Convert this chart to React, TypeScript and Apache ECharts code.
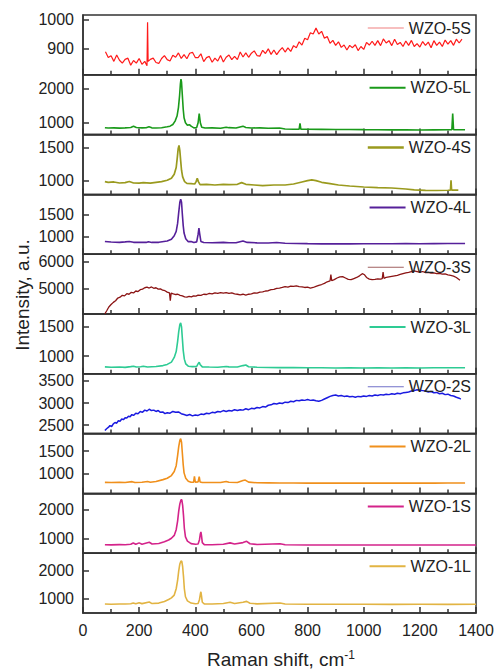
import { useEffect, useRef } from "react";
import * as echarts from "echarts";

// ---------- data ----------
const sampleNames = ["WZO-5S", "WZO-5L", "WZO-4S", "WZO-4L", "WZO-3S", "WZO-3L", "WZO-2S", "WZO-2L", "WZO-1S", "WZO-1L"];

const yRanges: number[][] = [
  [810, 1015], [650, 2420], [800, 1690], [600, 1960], [4070, 6280],
  [700, 1720], [2310, 3660], [565, 1890], [480, 2565], [470, 2640],
];

const yTickValues: number[][] = [
  [900, 1000], [1000, 2000], [1000, 1500], [1000, 1500], [5000, 6000],
  [1000, 1500], [2500, 3000, 3500], [1000, 1500], [1000, 2000], [1000, 2000],
];

const xTickLabels = [0, 200, 400, 600, 800, 1000, 1200, 1400];

const wzo5S = [[80,889],[90,869],[100,875],[110,856],[120,878],[130,860],[140,850],[150,863],[160,867],[170,843],[180,859],[190,850],[200,866],[210,846],[220,856],[228,841],[230,990],[232,856],[240,863],[250,867],[260,852],[270,849],[280,866],[290,876],[300,862],[310,857],[320,877],[330,870],[340,885],[350,866],[360,879],[370,865],[380,884],[390,887],[400,869],[410,869],[420,882],[430,855],[440,869],[450,873],[460,853],[470,867],[480,857],[490,876],[500,854],[510,870],[520,878],[530,862],[540,873],[550,862],[560,888],[570,871],[580,885],[590,870],[600,884],[610,892],[620,876],[630,874],[640,894],[650,883],[660,899],[670,880],[680,895],[690,879],[700,893],[710,903],[720,888],[730,902],[740,890],[750,910],[760,903],[770,923],[780,912],[790,935],[800,930],[810,954],[820,950],[830,970],[840,950],[850,959],[860,935],[870,941],[880,918],[890,928],[900,911],[910,923],[920,904],[930,912],[940,895],[950,911],[960,903],[970,913],[980,893],[990,907],[1000,897],[1010,921],[1020,912],[1030,925],[1040,911],[1050,927],[1060,910],[1070,933],[1080,919],[1090,927],[1100,910],[1110,932],[1120,914],[1130,921],[1140,907],[1150,926],[1160,911],[1170,928],[1180,907],[1190,917],[1200,905],[1210,924],[1220,911],[1230,922],[1240,903],[1250,927],[1260,911],[1270,922],[1280,907],[1290,929],[1300,915],[1310,927],[1320,911],[1330,932],[1340,919],[1350,932]];

const wzo5L = [[78,855],[90,845],[110,850],[130,842],[150,848],[170,860],[180,895],[190,858],[210,848],[225,855],[235,880],[245,850],[260,845],[280,855],[300,880],[310,900],[320,950],[328,1050],[335,1200],[340,1450],[344,1800],[347,2150],[349,2290],[351,2200],[354,1800],[357,1400],[360,1150],[365,1000],[372,930],[380,940],[385,900],[395,850],[405,860],[410,1000],[414,1275],[418,1000],[423,870],[435,845],[460,850],[490,840],[510,870],[520,855],[545,845],[570,900],[580,860],[600,845],[630,850],[660,840],[700,845],[720,815],[750,810],[770,812],[773,980],[776,812],[800,808],[850,805],[900,800],[950,800],[1000,796],[1050,795],[1100,790],[1150,792],[1200,788],[1250,790],[1300,792],[1314,795],[1317,1275],[1320,795],[1340,792],[1361,795]];

const wzo4S = [[78,990],[90,978],[110,985],[130,970],[150,975],[165,992],[180,970],[200,968],[215,975],[240,968],[260,980],[280,990],[300,1010],[315,1040],[325,1100],[332,1200],[336,1350],[339,1480],[342,1530],[345,1450],[348,1300],[351,1160],[355,1060],[362,990],[370,965],[385,960],[398,955],[403,990],[407,1040],[411,990],[417,945],[440,950],[470,940],[500,950],[520,945],[550,950],[565,975],[580,950],[610,940],[640,930],[680,940],[720,940],[750,955],[780,985],[800,1005],[815,1015],[830,1005],[850,980],[880,960],[910,940],[950,925],[1000,910],[1050,900],[1100,895],[1150,880],[1180,868],[1220,860],[1260,858],[1300,862],[1309,865],[1311,1010],[1313,865],[1337,865]];

const wzo4L = [[78,890],[100,878],[130,870],[150,880],[165,890],[180,870],[200,872],[225,868],[233,885],[245,868],[270,870],[300,900],[315,940],[325,1020],[332,1120],[337,1300],[341,1550],[345,1780],[348,1850],[351,1780],[354,1500],[357,1250],[360,1080],[366,950],[375,885],[385,890],[395,868],[405,880],[410,1050],[413,1195],[416,1050],[420,890],[430,865],[460,862],[500,870],[520,860],[545,862],[570,900],[585,868],[620,858],[660,855],[690,865],[720,850],[760,845],[800,840],[850,835],[900,838],[950,835],[1000,838],[1050,836],[1100,838],[1150,840],[1200,838],[1250,840],[1300,842],[1361,842]];

const wzo3S = [[78,4080],[85,4200],[92,4330],[100,4420],[108,4500],[116,4560],[124,4660],[132,4690],[140,4760],[148,4740],[156,4820],[164,4800],[172,4870],[180,4850],[188,4920],[196,4900],[204,4970],[212,4990],[220,5040],[228,5060],[236,5030],[244,5070],[252,5020],[260,5040],[268,4990],[276,5000],[284,4950],[292,4930],[300,4880],[308,4850],[311,4560],[314,4840],[322,4810],[330,4790],[338,4800],[346,4760],[354,4740],[362,4700],[370,4690],[378,4720],[386,4700],[394,4740],[402,4730],[410,4770],[420,4760],[430,4800],[440,4790],[450,4830],[460,4810],[470,4850],[480,4830],[490,4860],[500,4840],[510,4860],[520,4830],[530,4850],[540,4810],[550,4800],[560,4780],[570,4800],[580,4770],[590,4800],[600,4810],[610,4850],[620,4840],[630,4880],[640,4890],[650,4920],[660,4930],[670,4970],[680,4980],[690,5020],[700,5030],[710,5050],[720,5080],[730,5060],[740,5100],[750,5090],[760,5110],[770,5080],[780,5070],[790,5050],[800,5060],[810,5030],[820,5050],[830,5090],[840,5130],[850,5160],[860,5200],[870,5260],[880,5290],[883,5530],[886,5300],[895,5340],[905,5400],[915,5440],[925,5450],[935,5400],[945,5350],[955,5340],[965,5380],[975,5420],[985,5480],[995,5560],[1003,5520],[1010,5420],[1020,5360],[1030,5340],[1040,5350],[1050,5370],[1060,5360],[1066,5380],[1069,5620],[1072,5390],[1080,5420],[1090,5440],[1100,5460],[1110,5480],[1120,5500],[1130,5530],[1140,5560],[1150,5590],[1160,5610],[1170,5640],[1180,5660],[1190,5640],[1200,5620],[1210,5640],[1220,5600],[1230,5610],[1240,5580],[1250,5590],[1260,5560],[1270,5570],[1280,5540],[1290,5550],[1300,5520],[1310,5500],[1320,5470],[1330,5420],[1343,5320]];

const wzo3L = [[78,818],[100,812],[130,815],[150,810],[170,822],[180,830],[190,815],[205,820],[215,830],[230,815],[260,825],[285,840],[300,860],[315,900],[325,980],[332,1080],[337,1250],[341,1420],[345,1540],[348,1570],[351,1500],[354,1300],[357,1100],[361,950],[366,870],[375,830],[390,822],[405,825],[411,880],[414,895],[417,860],[425,818],[450,815],[480,812],[510,825],[520,818],[550,815],[570,840],[580,850],[590,820],[620,812],[660,808],[700,806],[750,805],[800,803],[850,804],[900,800],[950,802],[1000,800],[1050,803],[1100,800],[1150,802],[1200,800],[1250,803],[1300,802],[1361,804]];

const wzo2S = [[78,2380],[84,2420],[90,2450],[96,2490],[102,2470],[108,2530],[114,2560],[120,2545],[126,2600],[132,2590],[138,2640],[144,2625],[150,2670],[156,2660],[162,2700],[168,2690],[174,2740],[180,2720],[188,2770],[196,2760],[204,2810],[212,2790],[220,2840],[228,2820],[236,2860],[244,2830],[252,2840],[260,2810],[268,2830],[276,2790],[284,2800],[292,2760],[300,2780],[310,2770],[320,2810],[330,2790],[340,2800],[350,2760],[360,2740],[370,2720],[380,2740],[390,2710],[400,2730],[410,2720],[420,2750],[430,2740],[440,2770],[450,2760],[460,2790],[470,2780],[480,2810],[490,2800],[500,2830],[510,2810],[520,2830],[530,2820],[540,2850],[550,2830],[560,2850],[570,2840],[580,2870],[590,2850],[600,2880],[610,2870],[620,2900],[630,2890],[640,2920],[650,2910],[660,2950],[670,2960],[680,2990],[690,2980],[700,3000],[710,2990],[720,3020],[730,3010],[740,3040],[750,3030],[760,3060],[770,3050],[780,3070],[790,3060],[800,3080],[810,3060],[820,3070],[830,3050],[840,3040],[850,3060],[860,3090],[870,3120],[880,3150],[890,3170],[900,3180],[910,3160],[920,3170],[930,3150],[940,3160],[950,3140],[960,3150],[970,3130],[980,3150],[990,3140],[1000,3160],[1010,3150],[1020,3170],[1030,3160],[1040,3180],[1050,3170],[1060,3190],[1070,3180],[1080,3200],[1090,3190],[1100,3210],[1110,3200],[1120,3220],[1130,3210],[1140,3230],[1150,3240],[1160,3250],[1170,3270],[1180,3280],[1190,3300],[1200,3290],[1210,3280],[1220,3270],[1230,3250],[1240,3260],[1250,3230],[1260,3240],[1270,3210],[1280,3220],[1290,3190],[1300,3200],[1310,3170],[1320,3160],[1330,3130],[1340,3110],[1346,3090]];

const wzo2L = [[78,810],[100,805],[130,812],[150,808],[175,825],[185,808],[210,812],[230,830],[240,812],[260,830],[285,870],[300,900],[315,960],[325,1050],[332,1180],[337,1400],[341,1600],[345,1740],[348,1780],[351,1700],[354,1450],[357,1200],[360,1020],[366,900],[375,835],[385,812],[394,815],[397,940],[400,815],[410,820],[414,935],[417,820],[425,805],[450,808],[490,805],[510,830],[520,812],[550,808],[570,850],[578,860],[590,815],[620,800],[660,798],[700,796],[750,795],[800,793],[850,795],[900,792],[950,794],[1000,792],[1050,793],[1100,792],[1150,794],[1200,792],[1250,793],[1300,794],[1361,795]];

const wzo1S = [[78,775],[100,770],[130,780],[150,775],[170,790],[179,835],[188,790],[200,840],[210,795],[236,860],[246,800],[270,820],[290,880],[305,940],[315,1000],[325,1100],[332,1300],[337,1600],[341,1950],[345,2200],[349,2340],[352,2340],[355,2150],[358,1800],[361,1350],[365,1050],[372,900],[385,815],[400,790],[410,800],[415,950],[418,1150],[420,1225],[422,1100],[425,850],[432,780],[460,775],[500,790],[524,840],[540,800],[570,850],[583,895],[595,810],[620,785],[702,812],[720,775],[800,768],[900,765],[1000,768],[1100,765],[1200,767],[1300,765],[1400,766]];

const wzo1L = [[78,795],[100,790],[130,798],[150,795],[170,805],[179,835],[188,805],[200,845],[210,810],[236,870],[246,812],[270,830],[290,890],[305,960],[315,1020],[325,1120],[332,1350],[337,1650],[341,2000],[345,2250],[349,2360],[352,2340],[355,2150],[358,1800],[361,1350],[365,1060],[372,910],[385,830],[400,805],[410,815],[415,960],[418,1150],[420,1240],[422,1100],[425,860],[432,800],[460,795],[500,815],[524,860],[540,815],[570,860],[583,892],[595,825],[620,800],[702,832],[720,795],[800,788],[900,785],[1000,787],[1100,784],[1200,786],[1300,784],[1400,785]];

const seriesData = [wzo5S, wzo5L, wzo4S, wzo4L, wzo3S, wzo3L, wzo2S, wzo2L, wzo1S, wzo1L];

// ---------- styling ----------
const colors = ["#ff1a1a", "#1a9a1a", "#9a9a1e", "#56209a", "#8b1414", "#2ecb94", "#1a1ae0", "#f0901c", "#d4238a", "#e2b443"];
const lineWidths = [1.2, 1.6, 1.7, 1.6, 1.3, 1.6, 1.5, 1.6, 1.6, 1.6];
const legendIcons = [
  "path://M0,0 L36,0 L36,1 L0,1 Z",
  "path://M0,0 L36,0 L36,2 L0,2 Z",
  "path://M0,0 L36,0 L36,2.5 L0,2.5 Z",
  "path://M0,0 L36,0 L36,2 L0,2 Z",
  "path://M0,0 L36,0 L36,1 L0,1 Z",
  "path://M0,0 L36,0 L36,2 L0,2 Z",
  "path://M0,0 L36,0 L36,1 L0,1 Z",
  "path://M0,0 L36,0 L36,2 L0,2 Z",
  "path://M0,0 L36,0 L36,2 L0,2 Z",
  "path://M0,0 L36,0 L36,2 L0,2 Z",
];
const legendColors = ["#f08080", "#1a9a1a", "#9a9a1e", "#56209a", "#a06060", "#2ecb94", "#7070c8", "#f0901c", "#d4238a", "#e2b443"];

const FONT = "Liberation Sans, Arial, sans-serif";
const TEXT = "#222";
const AXIS = "#333";
const LEFT = 83;
const RIGHT = 21;
const TOP0 = 15;
const PH = 59.8;

export default function App() {
  const ref = useRef<HTMLDivElement>(null);

  useEffect(() => {
    if (!ref.current) return;
    const chart = echarts.init(ref.current, undefined, { renderer: "svg" });
    const n = sampleNames.length;

    const grid = sampleNames.map((_, i) => ({
      left: LEFT,
      right: RIGHT,
      top: TOP0 + i * PH,
      height: PH,
      show: true,
      borderColor: AXIS,
      borderWidth: 1.5,
      backgroundColor: "transparent",
    }));

    const xAxis = sampleNames.map((_, i) => ({
      type: "value",
      gridIndex: i,
      min: 0,
      max: 1400,
      interval: 200,
      splitLine: { show: false },
      axisLine: { show: true, onZero: false, lineStyle: { color: AXIS, width: 1.5 } },
      axisTick: { show: true, inside: true, length: 6, lineStyle: { color: AXIS, width: 1.5 } },
      minorTick: { show: true, splitNumber: 2, length: 4, lineStyle: { color: AXIS, width: 1.5 } },
      axisLabel: {
        show: i === n - 1,
        margin: 9,
        fontSize: 16,
        fontFamily: FONT,
        color: TEXT,
        customValues: xTickLabels,
        formatter: (v: number) => String(v),
      },
    }));

    const yAxis = sampleNames.map((_, i) => ({
      type: "value",
      gridIndex: i,
      min: yRanges[i][0],
      max: yRanges[i][1],
      splitLine: { show: false },
      axisLine: { show: true, onZero: false, lineStyle: { color: AXIS, width: 1.5 } },
      axisTick: { show: true, inside: true, length: 6, lineStyle: { color: AXIS, width: 1.5 }, customValues: yTickValues[i] },
      axisLabel: {
        margin: 9,
        fontSize: 16,
        fontFamily: FONT,
        color: TEXT,
        customValues: yTickValues[i],
        formatter: (v: number) => String(v),
      },
    }));

    const legend = sampleNames.map((name, i) => ({
      data: [{ name, icon: legendIcons[i], itemStyle: { color: legendColors[i] } }],
      right: 26,
      top: TOP0 + i * PH + 5,
      padding: 0,
      itemWidth: 36,
      itemHeight: 14,
      selectedMode: false,
      textStyle: { fontSize: 16, fontFamily: FONT, color: TEXT },
    }));

    const series = sampleNames.map((name, i) => ({
      name,
      type: "line",
      xAxisIndex: i,
      yAxisIndex: i,
      data: seriesData[i],
      symbol: "none",
      showSymbol: false,
      lineStyle: { color: colors[i], width: lineWidths[i] },
      itemStyle: { color: colors[i] },
      z: 3,
    }));

    chart.setOption({
      animation: false,
      backgroundColor: "#ffffff",
      grid,
      xAxis,
      yAxis,
      legend,
      series,
      graphic: [
        {
          type: "text",
          x: 22,
          y: 295,
          rotation: Math.PI / 2,
          style: {
            text: "Intensity, a.u.",
            fontSize: 19,
            fontFamily: FONT,
            fill: TEXT,
            align: "center",
            verticalAlign: "middle",
          },
        },
        {
          type: "text",
          x: 281,
          y: 659,
          style: {
            text: "Raman shift, cm{sup|-1}",
            fontSize: 19,
            fontFamily: FONT,
            fill: TEXT,
            align: "center",
            verticalAlign: "middle",
            rich: {
              sup: { fontSize: 12, fontFamily: FONT, fill: TEXT, verticalAlign: "top", padding: [0, 0, 8, 0] },
            },
          },
        },
      ],
    });

    return () => chart.dispose();
  }, []);

  return (
    <div
      ref={ref}
      style={{ position: "fixed", left: 0, top: 0, width: 497, height: 670, background: "#fff" }}
    />
  );
}
